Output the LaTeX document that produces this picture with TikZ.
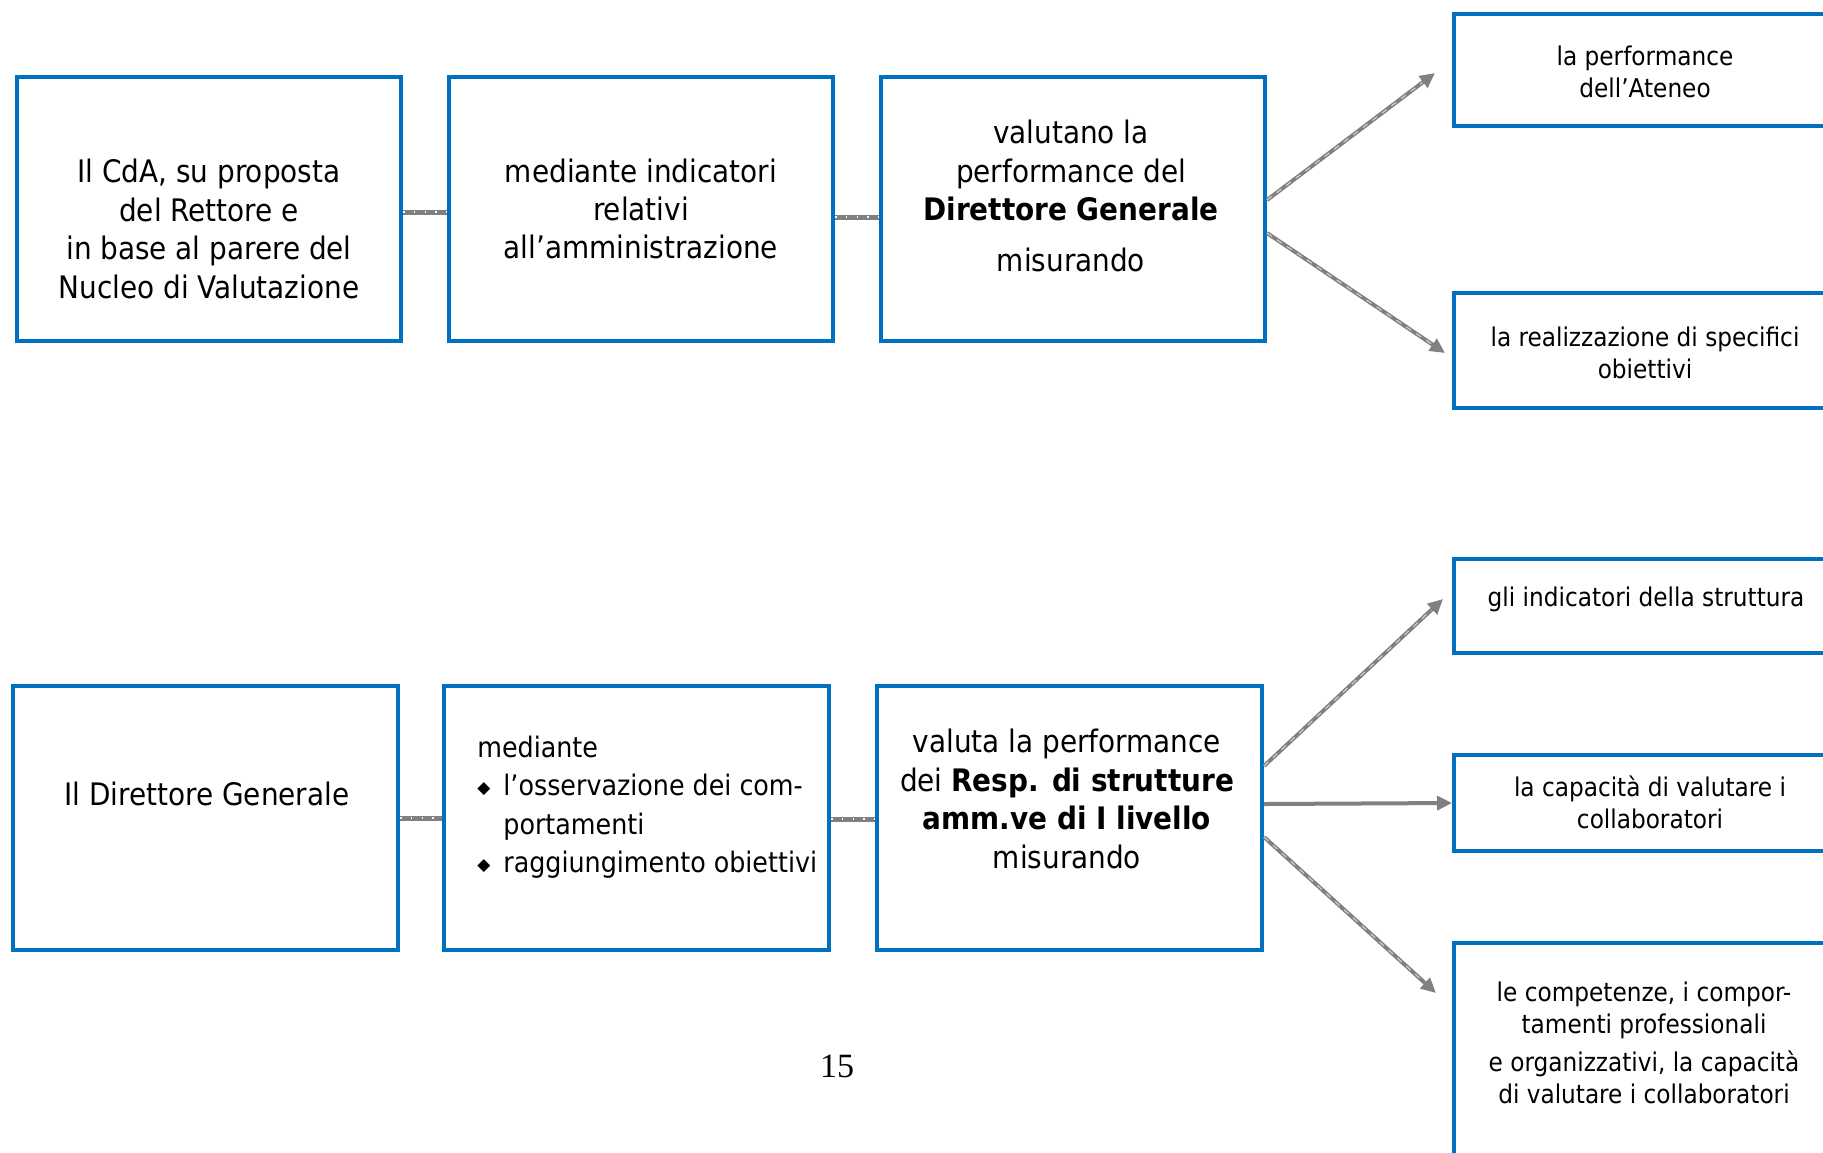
\documentclass[tikz,border=0pt]{standalone}
\usepackage{fontspec}
\setmainfont{DejaVu Sans Condensed}
\newfontfamily\numfont{Liberation Serif}
\newfontfamily\symfont{DejaVu Sans}
\usetikzlibrary{arrows.meta,calc}
\definecolor{boxblue}{HTML}{0070C0}
\definecolor{linkgray}{HTML}{808080}
\newcommand{\bigtxt}{\fontsize{15.5pt}{19.2pt}\selectfont}
\newcommand{\listtxt}{\fontsize{14.1pt}{19.2pt}\selectfont}
\newcommand{\smalltxt}{\fontsize{12.9pt}{16pt}\selectfont}
\newcommand{\bul}{\makebox[13pt][l]{\symfont\fontsize{8.5pt}{8.5pt}\selectfont\raisebox{1pt}{◆}}}

\begin{document}
\begin{tikzpicture}[x=0.5pt,y=-0.5pt,
  box/.style={draw=boxblue, line width=2pt, fill=white, inner sep=0pt},
  bigbox/.style={box, minimum width=192pt, minimum height=132pt},
  txt/.style={inner sep=0pt, align=center, font=\bigtxt},
  stxt/.style={inner sep=0pt, align=center, font=\smalltxt},
  link/.style={draw=linkgray, line width=2.5pt,
    postaction={draw=white, line width=0.8pt, dash pattern=on 0.8pt off 4.6pt}},
  arr/.style={draw=linkgray, line width=2pt, -{Triangle[length=7.5pt,width=7pt]}},
  darr/.style={arr, postaction={draw=white, draw opacity=0.6, line width=0.6pt,
    dash pattern=on 3pt off 3pt, arrows=-, shorten >=8pt}}]
\useasboundingbox (0,0) rectangle (1823,1152);
\clip (0,0) rectangle (1823,1152);

% upper chain
\node[bigbox] (a1) at (209,209) {};
\node[bigbox] (a2) at (641,209) {};
\node[bigbox] (a3) at (1073,209) {};
\node[box, minimum width=191pt, minimum height=56pt] (r1) at (1645,70) {};
\node[box, minimum width=191pt, minimum height=57.5pt] (r2) at (1645,350.5) {};

\node[txt] (ta1) at (209,229) {Il CdA, su proposta\\del Rettore e\\in base al parere del\\Nucleo di Valutazione};
\node[txt] (ta2) at (641,209) {mediante indicatori\\relativi\\all’amministrazione};
\node[txt] (ta3) at (1071,196) {valutano la\\performance del\\\textbf{Direttore Generale}\\[6pt]misurando};
\node[stxt] (tr1) at (1645,72) {la performance\\dell’Ateneo};
\node[stxt] (tr2) at (1645,352.5) {la realizzazione di specifici\\obiettivi};

\draw[link] ([yshift=-1.5pt]a1.east) -- ([yshift=-1.5pt]a2.west);
\draw[link] ([yshift=-4pt]a2.east) -- ([yshift=-4pt]a3.west);

\coordinate (ea) at (1435,73);
\coordinate (eb) at (1445,353);
\draw[darr] ([yshift=4.5pt]a3.east) -- (ea);
\draw[darr] ([yshift=-12pt]a3.east) -- (eb);

% lower chain
\node[box, minimum width=192.5pt, minimum height=132pt] (b1) at (205.5,818) {};
\node[box, minimum width=192.5pt, minimum height=132pt] (b2) at (636.5,818) {};
\node[box, minimum width=192.5pt, minimum height=132pt] (b3) at (1069.5,818) {};
\node[box, minimum width=193pt, minimum height=47pt] (s1) at (1647,606) {};
\node[box, minimum width=193pt, minimum height=48pt] (s2) at (1647,803) {};
\node[box, minimum width=193pt, minimum height=111pt] (s3) at (1647,1054) {};

\node[txt] (tb1) at (207,794) {Il Direttore Generale};
\node[txt, font=\listtxt, align=left, anchor=west] (tb2) at (477,807) {mediante\\\bul l’osservazione dei com-\\\hspace*{13pt}portamenti\\\bul raggiungimento obiettivi};
\node[txt] (tb3) at (1067,799) {valuta la performance\\dei \textbf{Resp. di strutture}\\\textbf{amm.ve di I livello}\\misurando};
\node[stxt] (ts1) at (1646,599) {gli indicatori della struttura};
\node[stxt] (ts2) at (1650,802.5) {la capacità di valutare i\\collaboratori};
\node[stxt] (ts3) at (1644,1043) {le competenze, i compor-\\tamenti professionali\\[3pt]e organizzativi, la capacità\\di valutare i collaboratori};

\draw[link] (b1.east) -- (b2.west);
\draw[link] ([yshift=-0.5pt]b2.east) -- ([yshift=-0.5pt]b3.west);

\coordinate (ec) at (1443,599);
\coordinate (ed) at (1436,993);
\draw[darr] ([yshift=26pt]b3.east) -- (ec);
\draw[arr] ([yshift=7pt]b3.east) -- (s2.west);
\draw[darr] ([yshift=-9.5pt]b3.east) -- (ed);

% page number
\node[inner sep=0pt, font=\numfont\fontsize{17pt}{20pt}\selectfont] (pg) at (837,1066) {15};
\end{tikzpicture}
\end{document}
